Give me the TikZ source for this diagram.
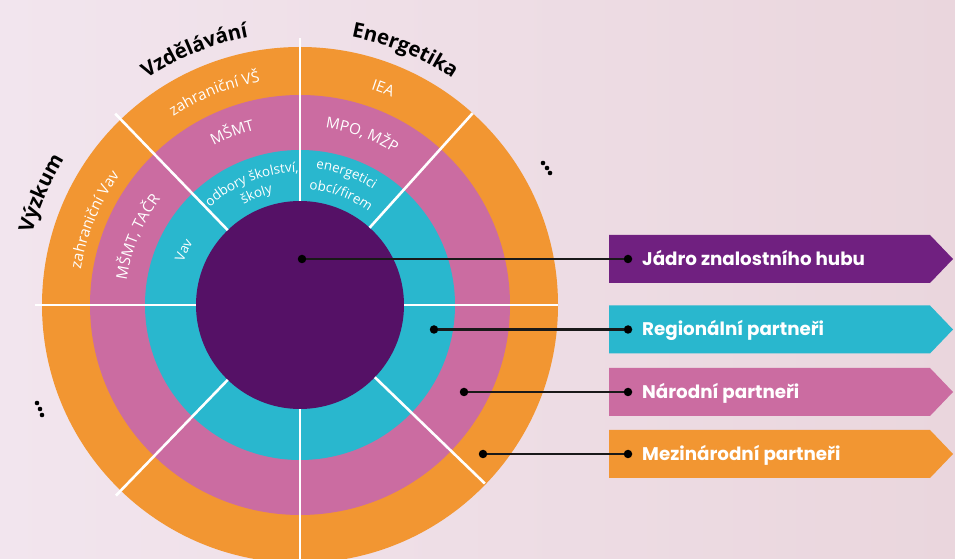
\documentclass[tikz,border=0pt]{standalone}
\usepackage{fontspec}
\setmainfont{Open Sans}
\newfontfamily\legfont{Poppins}
\usetikzlibrary{calc,decorations.text}
\definecolor{orng}{RGB}{242,150,50}
\definecolor{pnk}{RGB}{203,108,161}
\definecolor{tealc}{RGB}{41,183,206}
\definecolor{core}{RGB}{85,17,102}
\definecolor{legpurple}{RGB}{112,32,128}
\definecolor{bgl}{RGB}{242,229,238}
\definecolor{bgr}{RGB}{234,214,221}
\newcommand\arctext[6]{%
  \path[decorate,decoration={text along path,text align=center,text color=#4,
    text={|#5|#6}}]
    ($(C)+({#1+#3}:#2)$) arc[start angle={#1+#3}, end angle={#1-#3}, radius=#2];}
\begin{document}
\begin{tikzpicture}[x=1pt,y=1pt,
  sep/.style={white, line width=2.6pt},
  conn/.style={line width=2.4pt, black!90},
  dot/.style={circle, fill=black, inner sep=0pt, minimum size=8.5pt},
  legtext/.style={anchor=base west, text=white, inner sep=0pt,
    font=\legfont\bfseries\fontsize{18.3}{21}\selectfont},
  smalldot/.style={circle, fill=black, inner sep=0pt, minimum size=4.6pt}]
\useasboundingbox (0,0) rectangle (955,559);
\clip (0,0) rectangle (955,559);
\shade[left color=bgl, right color=bgr] (0,0) rectangle (955,559);
\coordinate (C) at (300,254);
% rings
\fill[orng] (C) circle[radius=258];
\fill[pnk] (C) circle[radius=210];
\fill[tealc] (C) circle[radius=155];
\fill[core] (C) circle[radius=104];
% separators
\draw[sep] ($(C)+(90:104)$) -- ($(C)+(90:267)$);
\draw[sep] ($(C)+(270:104)$) -- ($(C)+(270:262)$);
\draw[sep] ($(C)+(180:104)$) -- ($(C)+(180:265)$);
\draw[sep] ($(C)+(0:104)$) -- ($(C)+(0:258)$);
\draw[sep] ($(C)+(134:104)$) -- ($(C)+(134:266)$);
\draw[sep] ($(C)+(48:104)$) -- ($(C)+(48:258)$);
\draw[sep] ($(C)+(-44:104)$) -- ($(C)+(-44:257)$);
\draw[sep] ($(C)+(-134:104)$) -- ($(C)+(-134:265)$);
% ring labels
\def\rf{\fontsize{15.2}{17}\selectfont}
\def\tf{\fontsize{13.4}{16}\selectfont}
\def\of{\bfseries\fontsize{20.5}{24}\selectfont}
\arctext{112}{227}{40}{white}{\rf}{zahraniční VŠ}
\arctext{69}{227}{30}{white}{\rf}{IEA}
\arctext{157.5}{222}{40}{white}{\rf}{zahraniční Vav}
\arctext{111.5}{181}{30}{white}{\rf}{MŠMT}
\arctext{70}{179}{30}{white}{\rf}{MPO, MŽP}
\arctext{157.4}{175}{40}{white}{\rf}{MŠMT, TAČR}
\arctext{111.6}{133}{50}{white}{\tf}{odbory školství,}
\arctext{111.5}{115}{40}{white}{\tf}{školy}
\arctext{70.5}{137}{40}{white}{\tf}{energetici}
\arctext{69.6}{116}{40}{white}{\tf}{obcí/firem}
\arctext{154.8}{124}{30}{white}{\tf}{Vav}
% outer labels
\arctext{112.5}{273}{30}{black}{\of}{Vzdělávání}
\arctext{67.6}{273}{30}{black}{\of}{Energetika}
\arctext{156.7}{277}{30}{black}{\of}{Výzkum}
% ellipses
\node[smalldot] (e1) at (543,396) {};
\node[smalldot] (e2) at (547,391) {};
\node[smalldot] (e3) at (550,386) {};
\node[smalldot] (f1) at (37,156) {};
\node[smalldot] (f2) at (40,150) {};
\node[smalldot] (f3) at (42,144) {};
% legend
\fill[legpurple] (609,276) -- (930,276) -- (953,300) -- (930,324) -- (609,324) -- cycle;
\fill[tealc] (609,205.5) -- (930,205.5) -- (953,229.5) -- (930,253.5) -- (609,253.5) -- cycle;
\fill[pnk] (609,143) -- (930,143) -- (953,167) -- (930,191) -- (609,191) -- cycle;
\fill[orng] (609,81) -- (930,81) -- (953,105) -- (930,129) -- (609,129) -- cycle;
\node[legtext] (tJ) at (642,293.5) {Jádro znalostního hubu};
\node[legtext] (tR) at (642,223) {Regionální partneři};
\node[legtext] (tN) at (642,160.5) {Národní partneři};
\node[legtext] (tM) at (642,98.5) {Mezinárodní partneři};
% connectors
\node[dot] (sJ) at (302,300) {};
\node[dot] (dJ) at (628,300) {};
\node[dot] (sR) at (434,229.5) {};
\node[dot] (dR) at (628,229.5) {};
\node[dot] (sN) at (464,167) {};
\node[dot] (dN) at (628,167) {};
\node[dot] (sM) at (483,105) {};
\node[dot] (dM) at (628,105) {};
\draw[conn] (sJ) -- (dJ);
\draw[conn] (sR) -- (dR);
\draw[conn] (sN) -- (dN);
\draw[conn] (sM) -- (dM);
\end{tikzpicture}
\end{document}
